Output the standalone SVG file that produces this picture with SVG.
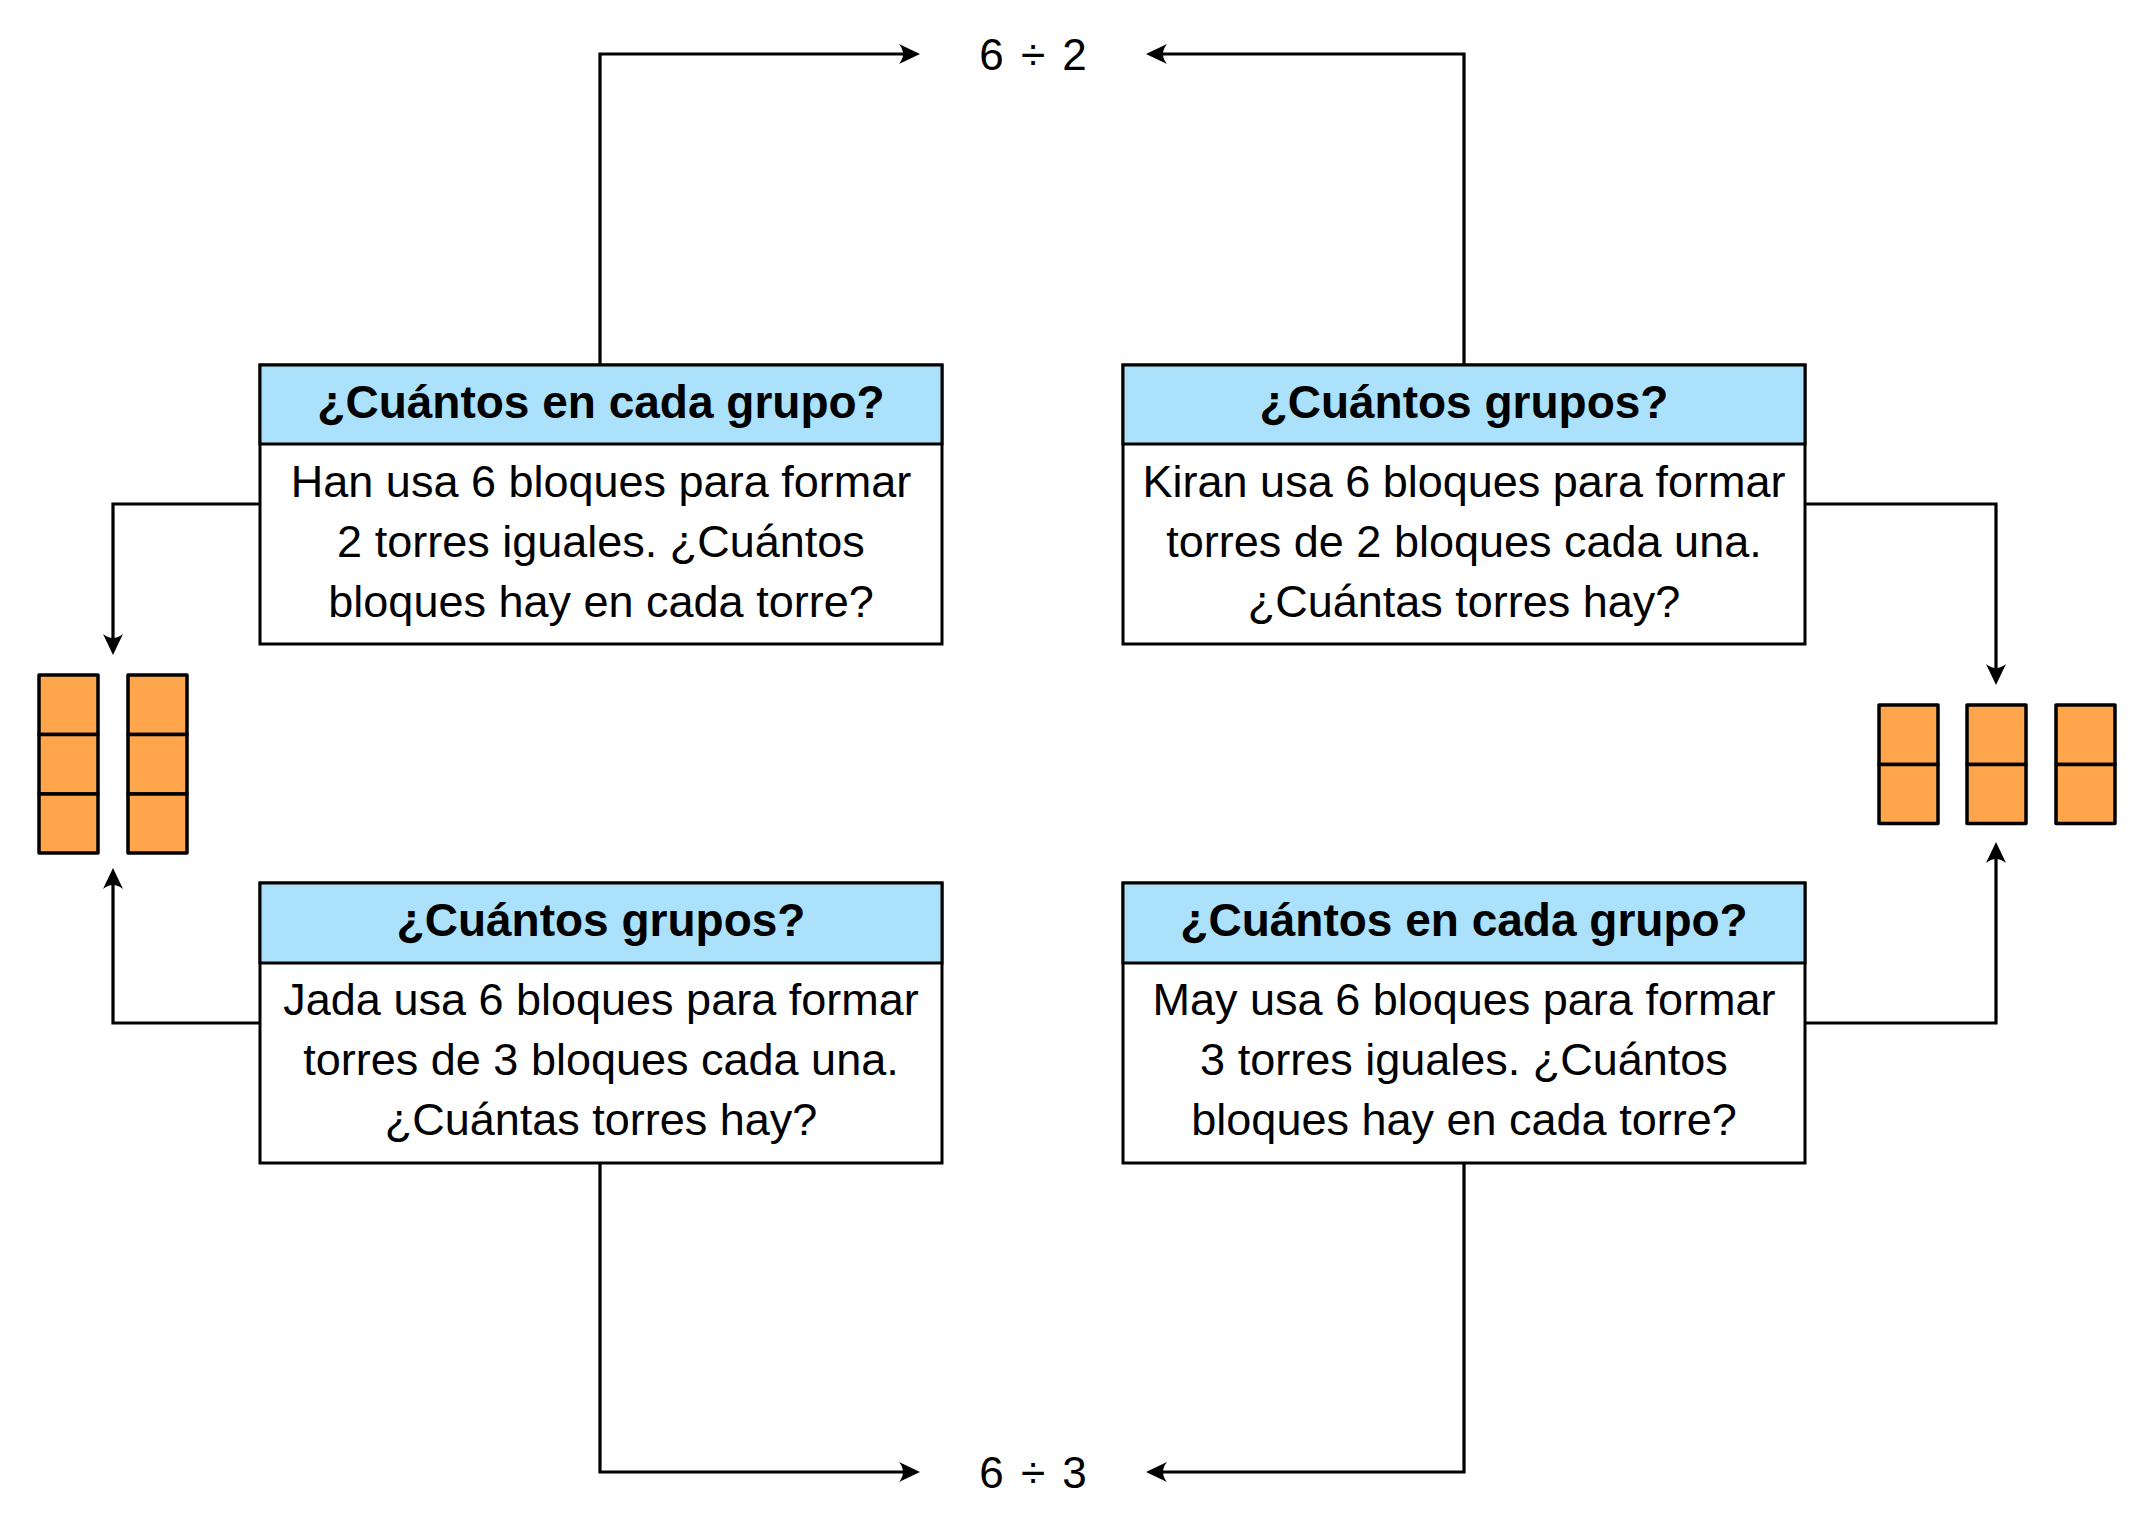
<svg xmlns="http://www.w3.org/2000/svg" width="2154" height="1528" viewBox="0 0 2154 1528">
<style>
.box{fill:#ffffff;stroke:#000;stroke-width:3}
.hdr{fill:#ABE1FA;stroke:#000;stroke-width:3}
.ht{font-family:"Liberation Sans",Arial,sans-serif;font-weight:bold;font-size:46px;text-anchor:middle;fill:#000}
.bt{font-family:"Liberation Sans",Arial,sans-serif;font-size:45px;text-anchor:middle;fill:#000}
.mt{font-family:"Liberation Sans",Arial,sans-serif;font-size:44px;text-anchor:middle;fill:#000;word-spacing:5px}
.blk{fill:#FFA64D;stroke:#000;stroke-width:3.5;stroke-linejoin:round}
.con{fill:none;stroke:#000;stroke-width:3.2;marker-end:url(#arr)}
</style>
<defs>
<marker id="arr" markerUnits="userSpaceOnUse" orient="auto" refX="-6" refY="0" viewBox="-24 -13 26 26" markerWidth="26" markerHeight="26">
<path d="M0,0 L-21,-10 Q-13,0 -21,10 Z" fill="#000"/>
</marker>
</defs>
<rect width="2154" height="1528" fill="#fff"/>
<g id="connectors">
<path class="con" d="M600,365 V54 H914"/>
<path class="con" d="M1464,365 V54 H1152"/>
<path class="con" d="M260,504 H113 V649"/>
<path class="con" d="M260,1023 H113 V874"/>
<path class="con" d="M1805,504 H1996 V679"/>
<path class="con" d="M1805,1023 H1996 V848"/>
<path class="con" d="M600,1163 V1472 H914"/>
<path class="con" d="M1464,1163 V1472 H1152"/>
</g>
<g id="div62"><text class="mt" x="1033" y="70">6 ÷ 2</text></g>
<g id="div63"><text class="mt" x="1033" y="1488">6 ÷ 3</text></g>
<g id="box-tl">
<rect class="box" x="260" y="365" width="682" height="279"/>
<rect class="hdr" x="260" y="365" width="682" height="79"/>
<text class="ht" x="601" y="418">¿Cuántos en cada grupo?</text>
<text class="bt" x="601" y="497">Han usa 6 bloques para formar</text>
<text class="bt" x="601" y="557">2 torres iguales. ¿Cuántos</text>
<text class="bt" x="601" y="617">bloques hay en cada torre?</text>
</g>
<g id="box-tr">
<rect class="box" x="1123" y="365" width="682" height="279"/>
<rect class="hdr" x="1123" y="365" width="682" height="79"/>
<text class="ht" x="1464" y="418">¿Cuántos grupos?</text>
<text class="bt" x="1464" y="497">Kiran usa 6 bloques para formar</text>
<text class="bt" x="1464" y="557">torres de 2 bloques cada una.</text>
<text class="bt" x="1464" y="617">¿Cuántas torres hay?</text>
</g>
<g id="box-bl">
<rect class="box" x="260" y="883" width="682" height="280"/>
<rect class="hdr" x="260" y="883" width="682" height="80"/>
<text class="ht" x="601" y="936">¿Cuántos grupos?</text>
<text class="bt" x="601" y="1015">Jada usa 6 bloques para formar</text>
<text class="bt" x="601" y="1075">torres de 3 bloques cada una.</text>
<text class="bt" x="601" y="1135">¿Cuántas torres hay?</text>
</g>
<g id="box-br">
<rect class="box" x="1123" y="883" width="682" height="280"/>
<rect class="hdr" x="1123" y="883" width="682" height="80"/>
<text class="ht" x="1464" y="936">¿Cuántos en cada grupo?</text>
<text class="bt" x="1464" y="1015">May usa 6 bloques para formar</text>
<text class="bt" x="1464" y="1075">3 torres iguales. ¿Cuántos</text>
<text class="bt" x="1464" y="1135">bloques hay en cada torre?</text>
</g>
<g id="towers-left">
<rect class="blk" x="39" y="675" width="59" height="59.5"/>
<rect class="blk" x="39" y="734.5" width="59" height="59.5"/>
<rect class="blk" x="39" y="794" width="59" height="59"/>
<rect class="blk" x="128" y="675" width="59" height="59.5"/>
<rect class="blk" x="128" y="734.5" width="59" height="59.5"/>
<rect class="blk" x="128" y="794" width="59" height="59"/>
</g>
<g id="towers-right">
<rect class="blk" x="1879" y="705" width="59" height="59.5"/>
<rect class="blk" x="1879" y="764.5" width="59" height="59"/>
<rect class="blk" x="1967" y="705" width="59" height="59.5"/>
<rect class="blk" x="1967" y="764.5" width="59" height="59"/>
<rect class="blk" x="2056" y="705" width="59" height="59.5"/>
<rect class="blk" x="2056" y="764.5" width="59" height="59"/>
</g>
</svg>
